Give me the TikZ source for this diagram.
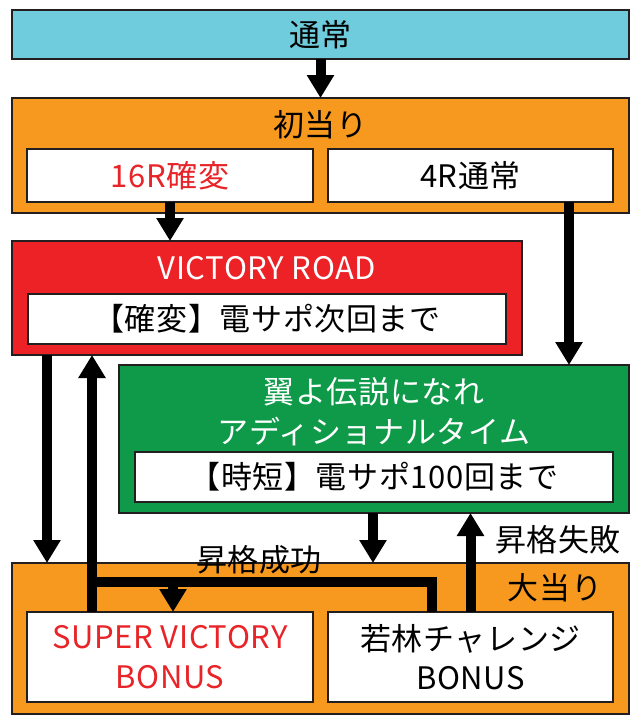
\documentclass[tikz,border=0pt]{standalone}
\usepackage{fontspec}
\setmainfont{Noto Sans CJK JP}[LetterSpace=2]
\usetikzlibrary{arrows.meta}
\definecolor{cblue}{RGB}{110,204,221}
\definecolor{corange}{RGB}{247,153,31}
\definecolor{cred}{RGB}{237,34,39}
\definecolor{cgreen}{RGB}{14,154,72}
\definecolor{ctred}{RGB}{232,36,40}
\definecolor{cline}{RGB}{35,31,32}
\tikzset{
  frame/.style={draw=cline,line width=1.6pt,inner sep=0pt,outer sep=0pt},
  txt/.style={font=\fontsize{31}{39.5}\selectfont,inner sep=0pt},
  flow/.style={line width=10pt,draw=black,-{Triangle[width=26pt,length=23pt]}},
  flowline/.style={line width=10pt,draw=black}
}
\begin{document}
\begin{tikzpicture}[x=1pt,y=-1pt]
\useasboundingbox (0,0) rectangle (640,725);
% boxes
\node[frame,fill=cblue,minimum width=617pt,minimum height=49pt,txt] (top) at (320.5,34.5) {通常};
\node[frame,fill=corange,minimum width=617pt,minimum height=115pt] (shoatari) at (320.5,155.5) {};
\node[txt] (shoatariT) at (320.5,125) {初当り};
\node[frame,fill=white,minimum width=286pt,minimum height=53pt,txt,text=ctred] (k16) at (170,175.5) {16R確変};
\node[frame,fill=white,minimum width=285pt,minimum height=53pt,txt] (t4) at (470.5,175.5) {4R通常};
\node[frame,fill=cred,minimum width=510pt,minimum height=114pt] (vroad) at (267,298) {};
\node[txt,text=white] (vroadT) at (267,268) {VICTORY ROAD};
\node[frame,fill=white,minimum width=478pt,minimum height=50pt,txt] (vroadIn) at (267,319) {【確変】電サポ次回まで};
\node[frame,fill=cgreen,minimum width=510pt,minimum height=148pt] (green) at (374,439) {};
\node[txt,text=white,align=center] (greenT) at (374,411.5) {翼よ伝説になれ\\アディショナルタイム};
\node[frame,fill=white,minimum width=478pt,minimum height=50pt,txt] (greenIn) at (374,477) {【時短】電サポ100回まで};
\node[frame,fill=corange,minimum width=617pt,minimum height=151pt] (oo) at (320.5,638.5) {};
\node[txt] (ooT) at (555,588) {大当り};
\node[frame,fill=white,minimum width=286pt,minimum height=90pt,txt,text=ctred,align=center] (svb) at (170,657) {SUPER VICTORY\\BONUS};
\node[frame,fill=white,minimum width=285pt,minimum height=90pt,txt,align=center] (waka) at (470.5,657) {若林チャレンジ\\BONUS};
\node[txt] (upOK) at (259,560) {昇格成功};
\node[txt] (upNG) at (558,540) {昇格失敗};
% helper coordinates
\coordinate (t4out) at ([xshift=-44pt]t4.south east);
\coordinate (vrout) at ([xshift=35pt]vroad.south west);
\coordinate (svbout) at ([xshift=65pt]svb.north west);
\coordinate (grout) at ([xshift=254pt]green.south west);
\coordinate (wkout) at ([xshift=104pt]waka.north west);
\coordinate (svbin) at ([xshift=3pt]svb.north);
\coordinate (bend) at (432,582);
% connectors
\draw[flow] (top.south) -- (shoatari.north);
\draw[flow] (k16.south) -- (k16.south |- vroad.north);
\draw[flow] (t4out) -- (t4out |- green.north);
\draw[flow] (vrout) -- (vrout |- oo.north);
\draw[flow] (svbout) -- (svbout |- vroad.south);
\draw[flow] (grout) -- (grout |- oo.north);
\draw[flow] (waka.north) -- (waka.north |- green.south);
\draw[flowline] (wkout) |- (svbout |- bend);
\draw[flow] (svbin |- bend) -- (svbin);
\end{tikzpicture}
\end{document}
